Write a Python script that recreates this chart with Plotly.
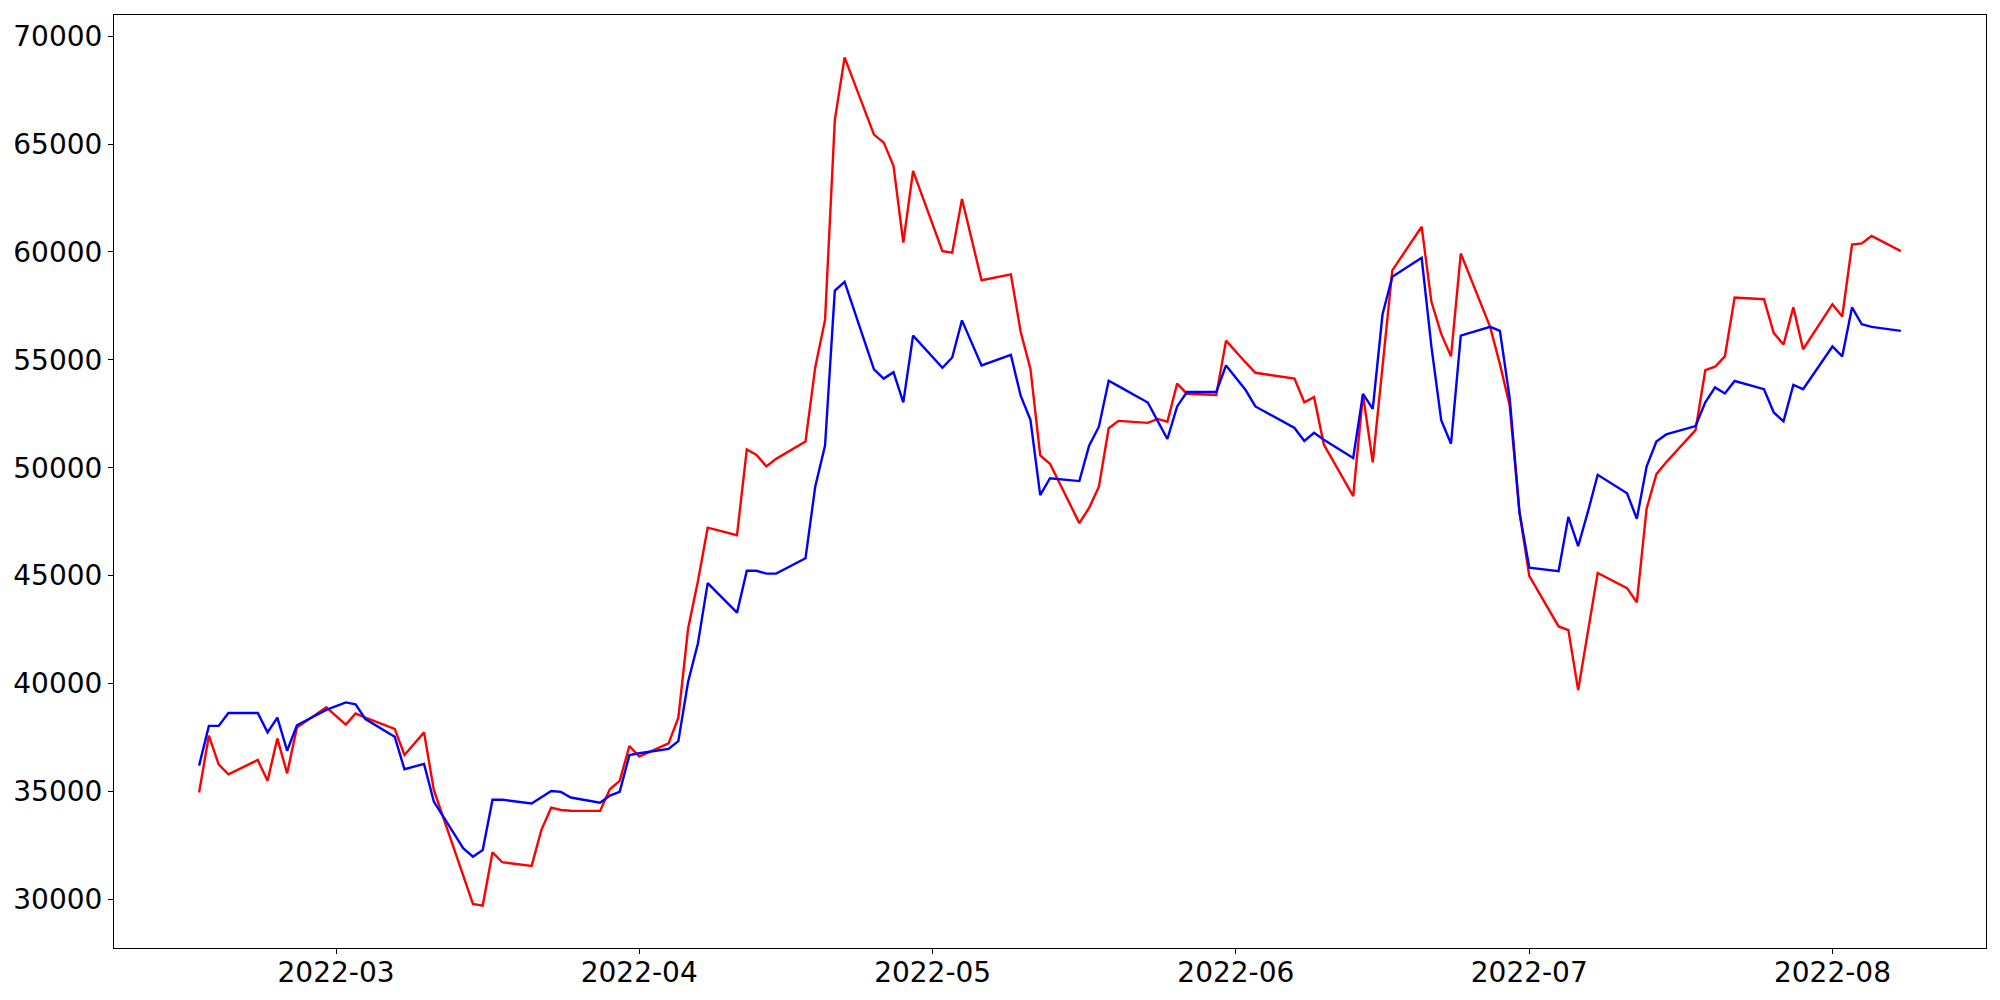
import pandas as pd
import plotly.graph_objects as go

dates = [
    "2022-02-15", "2022-02-16", "2022-02-17", "2022-02-18", "2022-02-21", "2022-02-22",
    "2022-02-23", "2022-02-24", "2022-02-25", "2022-02-28",
    "2022-03-02", "2022-03-03", "2022-03-04", "2022-03-07", "2022-03-08", "2022-03-10",
    "2022-03-11", "2022-03-14", "2022-03-15", "2022-03-16", "2022-03-17", "2022-03-18",
    "2022-03-21", "2022-03-22", "2022-03-23", "2022-03-24", "2022-03-25", "2022-03-28",
    "2022-03-29", "2022-03-30", "2022-03-31",
    "2022-04-01", "2022-04-04", "2022-04-05", "2022-04-06", "2022-04-07", "2022-04-08",
    "2022-04-11", "2022-04-12", "2022-04-13", "2022-04-14", "2022-04-15", "2022-04-18",
    "2022-04-19", "2022-04-20", "2022-04-21", "2022-04-22", "2022-04-25", "2022-04-26",
    "2022-04-27", "2022-04-28", "2022-04-29",
    "2022-05-02", "2022-05-03", "2022-05-04", "2022-05-06", "2022-05-09", "2022-05-10",
    "2022-05-11", "2022-05-12", "2022-05-13", "2022-05-16", "2022-05-17", "2022-05-18",
    "2022-05-19", "2022-05-20", "2022-05-23", "2022-05-24", "2022-05-25", "2022-05-26",
    "2022-05-27", "2022-05-30", "2022-05-31",
    "2022-06-02", "2022-06-03", "2022-06-07", "2022-06-08", "2022-06-09", "2022-06-10",
    "2022-06-13", "2022-06-14", "2022-06-15", "2022-06-16", "2022-06-17", "2022-06-20",
    "2022-06-21", "2022-06-22", "2022-06-23", "2022-06-24", "2022-06-27", "2022-06-28",
    "2022-06-29", "2022-06-30",
    "2022-07-01", "2022-07-04", "2022-07-05", "2022-07-06", "2022-07-07", "2022-07-08",
    "2022-07-11", "2022-07-12", "2022-07-13", "2022-07-14", "2022-07-15", "2022-07-18",
    "2022-07-19", "2022-07-20", "2022-07-21", "2022-07-22", "2022-07-25", "2022-07-26",
    "2022-07-27", "2022-07-28", "2022-07-29",
    "2022-08-01", "2022-08-02", "2022-08-03", "2022-08-04", "2022-08-05", "2022-08-08",
]

red_values = [
    34940, 37580, 36250, 35790, 36450, 35490, 37450, 35830, 37950, 38890,
    38090, 38610, 38410, 37890, 36680, 37730, 35060, 31150, 29780, 29700, 32170, 31710,
    31540, 33210, 34240, 34130, 34100, 34090, 35090, 35480, 37100,
    36610, 37220, 38410, 42550, 44740, 47220, 46870, 50850, 50590, 50060, 50410, 51210,
    54660, 56850, 66130, 69020, 65440, 65070, 63990, 60430, 63760,
    60040, 59970, 62460, 58690, 58960, 56300, 54580, 50570, 50180, 47430, 48140, 49120,
    51830, 52170, 52080, 52260, 52130, 53900, 53430, 53370, 55890,
    54880, 54400, 54130, 53030, 53270, 51070, 48680, 53390, 50250, 54850, 59150, 61170,
    57690, 56200, 55160, 59930, 56530, 54800, 52890, 47930,
    44990, 42640, 42470, 39690, 42310, 45120, 44420, 43760, 48100, 49700, 50250, 51740,
    54520, 54680, 55160, 57890, 57810, 56240, 55710, 57440, 55490,
    57580, 57010, 60340, 60400, 60740, 60040,
]

blue_values = [
    36190, 38030, 38030, 38630, 38630, 37730, 38410, 36880, 38060, 38770,
    39120, 39030, 38350, 37530, 36020, 36270, 34520, 32360, 31970, 32280, 34610, 34610,
    34430, 34720, 35010, 34970, 34710, 34470, 34800, 34970, 36680,
    36760, 36960, 37320, 40080, 41850, 44650, 43280, 45220, 45220, 45090, 45090, 45800,
    49130, 51030, 58210, 58620, 54560, 54130, 54430, 53030, 56120,
    54630, 55110, 56830, 54740, 55230, 53340, 52220, 48730, 49510, 49380, 51020, 51900,
    54030, 53780, 53020, 52170, 51330, 52840, 53510, 53510, 54740,
    53600, 52840, 51840, 51240, 51620, 51300, 50450, 53420, 52730, 57110, 58850, 59730,
    55600, 52200, 51110, 56120, 56530, 56340, 53230, 47930,
    45370, 45200, 47720, 46360, 47960, 49670, 48810, 47630, 50050, 51210, 51540, 51930,
    53030, 53720, 53440, 54020, 53640, 52560, 52150, 53840, 53640,
    55620, 55160, 57430, 56650, 56530, 56340,
]

assert len(dates) == len(red_values) == len(blue_values)

# matplotlib-like 5% autoscale margins
d = pd.to_datetime(dates)
xpad = (d.max() - d.min()) * 0.05
xrange_ = [(d.min() - xpad).isoformat(), (d.max() + xpad).isoformat()]
allv = red_values + blue_values
vmin, vmax = min(allv), max(allv)
ypad = (vmax - vmin) * 0.05
yrange_ = [vmin - ypad, vmax + ypad]

fig = go.Figure()
fig.add_trace(go.Scatter(x=dates, y=red_values, mode="lines",
                         line=dict(color="#ff0000", width=2.4), showlegend=False))
fig.add_trace(go.Scatter(x=dates, y=blue_values, mode="lines",
                         line=dict(color="#0000ff", width=2.4), showlegend=False))

tickfont = dict(family="DejaVu Sans", size=28, color="black")
axis_common = dict(
    showline=True, linecolor="black", linewidth=1.1, mirror=True,
    ticks="outside", ticklen=5, tickwidth=1.1, tickcolor="black",
    showgrid=False, zeroline=False, tickfont=tickfont, automargin=False,
)

fig.update_layout(
    width=2000, height=1000,
    margin=dict(l=106, r=22, t=7, b=60, pad=0),
    paper_bgcolor="white", plot_bgcolor="white",
    showlegend=False,
    xaxis=dict(type="date", range=xrange_, tick0="2022-03-01", dtick="M1",
               tickformat="%Y-%m", ticklabelstandoff=-6, **axis_common),
    yaxis=dict(range=yrange_, tick0=0, dtick=5000, tickformat="d", **axis_common),
)

fig.write_html("out.html")
